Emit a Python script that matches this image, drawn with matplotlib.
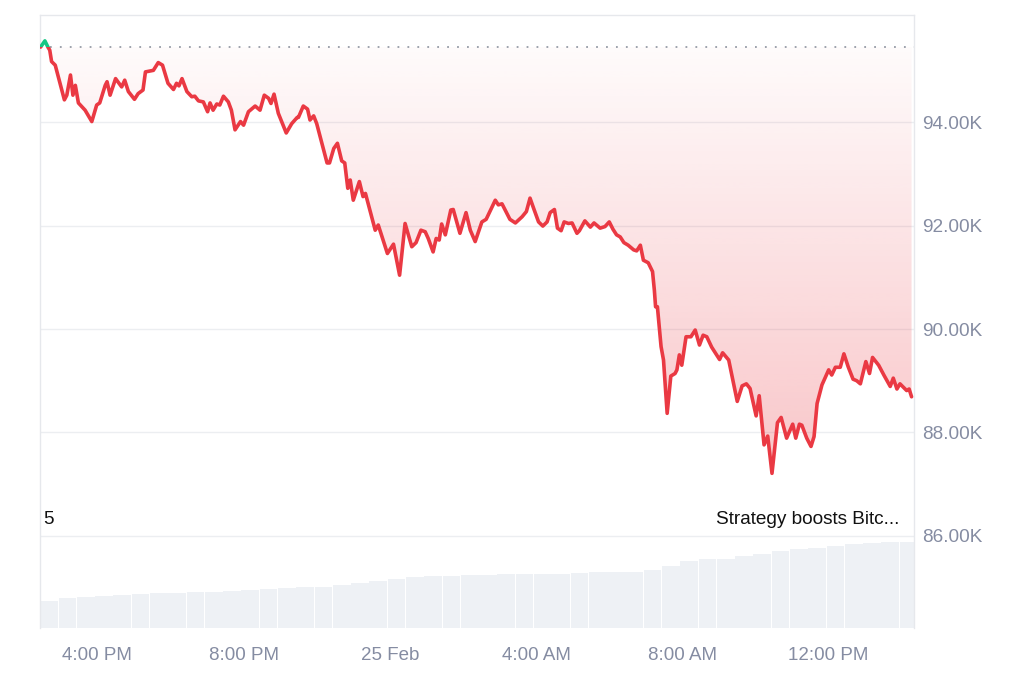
import numpy as np
import matplotlib
matplotlib.use("Agg")
import matplotlib.pyplot as plt
from matplotlib.patches import Rectangle
from matplotlib.path import Path
from matplotlib.colors import to_rgb

plt.rcParams['font.family'] = ['Liberation Sans', 'DejaVu Sans']

# minutes after 4:00 PM on 24 Feb, and BTC price in thousands of USD
minutes = [-93, -86, -81, -78, -75, -69, -54, -50, -44, -40, -36, -31, -20, -9, -1, 4, 13, 16, 21,
           30, 40, 45, 51, 61, 67, 75, 79, 92, 100, 107, 116, 125, 130, 134, 139, 147, 155, 160,
           166, 174, 181, 185, 190, 196, 201, 207, 215, 220, 226, 231, 235, 240, 248, 259, 267,
           274, 281, 285, 290, 297, 310, 319, 328, 330, 338, 345, 349, 355, 360, 377, 381, 388,
           394, 401, 406, 411, 415, 420, 430, 436, 440, 456, 461, 476, 486, 496, 505, 516, 523,
           531, 538, 543, 551, 556, 561, 565, 571, 580, 584, 595, 605, 612, 620, 631, 638, 653,
           658, 664, 677, 686, 697, 704, 710, 716, 724, 731, 738, 743, 750, 755, 761, 766, 773,
           779, 787, 791, 800, 809, 815, 825, 833, 840, 846, 852, 858, 864, 871, 880, 885, 891,
           896, 904, 911, 914, 916, 919, 925, 929, 935, 941, 948, 951, 955, 959, 966, 974, 981,
           988, 994, 1000, 1008, 1021, 1026, 1036, 1050, 1058, 1065, 1071, 1081, 1086, 1094,
           1100, 1107, 1116, 1122, 1131, 1141, 1146, 1152, 1156, 1164, 1171, 1176, 1181, 1189,
           1200, 1205, 1211, 1219, 1225, 1232, 1240, 1246, 1252, 1261, 1267, 1272, 1282, 1291,
           1301, 1306, 1312, 1317, 1328, 1332, 1336]
price = [95.45, 95.57, 95.45, 95.39, 95.17, 95.10, 94.43, 94.52, 94.91, 94.52, 94.71, 94.37, 94.23,
         94.01, 94.33, 94.37, 94.71, 94.78, 94.52, 94.84, 94.68, 94.81, 94.59, 94.44, 94.55, 94.62,
         94.97, 95.00, 95.15, 95.10, 94.75, 94.63, 94.75, 94.70, 94.84, 94.59, 94.49, 94.50, 94.41,
         94.39, 94.20, 94.37, 94.23, 94.35, 94.33, 94.50, 94.39, 94.23, 93.85, 93.94, 94.01, 93.94,
         94.20, 94.31, 94.23, 94.52, 94.46, 94.36, 94.54, 94.17, 93.79, 93.97, 94.09, 94.09, 94.31,
         94.25, 94.04, 94.12, 93.97, 93.21, 93.21, 93.49, 93.59, 93.25, 93.21, 92.72, 92.88, 92.49,
         92.85, 92.56, 92.62, 91.91, 92.01, 91.46, 91.64, 91.04, 92.04, 91.59, 91.67, 91.91, 91.88,
         91.75, 91.49, 91.75, 91.72, 92.03, 91.82, 92.30, 92.31, 91.85, 92.25, 91.91, 91.69, 92.07,
         92.12, 92.49, 92.40, 92.42, 92.12, 92.05, 92.17, 92.27, 92.53, 92.33, 92.07, 91.99, 92.07,
         92.25, 92.31, 91.95, 91.90, 92.07, 92.04, 92.05, 91.85, 91.90, 92.09, 91.97, 92.05, 91.95,
         91.98, 92.07, 91.93, 91.82, 91.78, 91.67, 91.62, 91.53, 91.51, 91.62, 91.33, 91.28, 91.11,
         90.75, 90.43, 90.43, 89.66, 89.40, 88.37, 89.09, 89.14, 89.21, 89.50, 89.30, 89.85, 89.85,
         89.98, 89.69, 89.88, 89.85, 89.65, 89.41, 89.54, 89.40, 88.60, 88.90, 88.94, 88.85, 88.32,
         88.71, 87.76, 87.93, 87.21, 88.19, 88.29, 87.89, 88.16, 87.89, 88.16, 88.14, 87.89, 87.73,
         87.92, 88.56, 88.92, 89.21, 89.11, 89.26, 89.26, 89.52, 89.27, 89.03, 89.00, 88.94, 89.37,
         89.14, 89.45, 89.30, 89.10, 88.89, 89.05, 88.84, 88.94, 88.81, 88.84, 88.69]

# volume in 30-minute buckets starting 2:26 PM (relative units)
volume = [29.3, 32.6, 33.7, 34.8, 35.9, 37.0, 38.0, 38.0, 38.6, 39.1, 39.7, 41.3, 42.4, 43.5,
          44.6, 45.1, 46.7, 48.4, 51.1, 53.3, 54.9, 56.0, 56.5, 57.1, 57.6, 58.2, 58.7, 58.7,
          59.2, 59.8, 60.9, 61.2, 61.4, 63.0, 67.4, 72.8, 74.5, 75.5, 78.3, 80.4, 83.7, 85.9,
          87.5, 89.1, 90.8, 92.4, 93.5, 93.8]

tick_hours = [16, 20, 24, 28, 32, 36]
tick_labels = ["4:00 PM", "8:00 PM", "25 Feb", "4:00 AM", "8:00 AM", "12:00 PM"]
price_ticks = [86, 88, 90, 92, 94]

red = '#ea3943'
green = '#16c784'
grey = '#858ca2'

t = 16 + np.array(minutes) / 60
p = np.array(price)
base = p[0]
x0, x1 = 16 - 94 / 60, 16 + 1340 / 60
y0, y1 = 84.22, 96.07

fig = plt.figure(figsize=(10.24, 6.82), dpi=100)
ax = fig.add_axes([40 / 1024, 54 / 682, 874 / 1024, 613 / 682])
vax = fig.add_axes([40 / 1024, 54 / 682, 874 / 1024, 92 / 682])
vax.set_zorder(0)
ax.set_zorder(1)
ax.patch.set_visible(False)

# volume bars
vol_t = x0 + 0.25 + 0.5 * np.arange(len(volume))
vax.bar(vol_t, volume, width=0.485, color='#eef1f5', edgecolor='none')
vax.set_xlim(x0, x1)
vax.set_ylim(0, 100)
vax.axis('off')

ax.set_xlim(x0, x1)
ax.set_ylim(y0, y1)

# gradient fill under the baseline
fill = ax.fill_between(t, p, base, where=p <= base, interpolate=True,
                       facecolor='none', edgecolor='none')
clip = Path.make_compound_path(*fill.get_paths())
grad = np.zeros((256, 1, 4))
grad[..., :3] = to_rgb(red)
grad[:, 0, 3] = np.linspace(0.29, 0.02, 256)
im = ax.imshow(grad, extent=[x0, x1, p.min(), base], aspect='auto', origin='lower',
               interpolation='bilinear', zorder=2)
im.set_clip_path(clip, transform=ax.transData)

# baseline (opening price)
ax.axhline(base, color='#959ba6', lw=1.3, ls=(0, (1, 4.5)), zorder=3)

# price line: red below the open, green above
ln_r, = ax.plot(t, p, color=red, lw=2.6, solid_joinstyle='round', solid_capstyle='round', zorder=4)
ln_r.set_clip_path(Rectangle((x0, y0), x1 - x0, base - y0, transform=ax.transData))
ln_g, = ax.plot(t, p, color=green, lw=2.6, solid_joinstyle='round', solid_capstyle='round', zorder=4)
ln_g.set_clip_path(Rectangle((x0, base), x1 - x0, y1 - base, transform=ax.transData))

ax.set_yticks(price_ticks, [f"{v:.2f}K" for v in price_ticks])
ax.yaxis.tick_right()
ax.yaxis.grid(True, color='#eceef1', lw=1)
ax.set_axisbelow(True)
ax.tick_params(axis='y', length=0, pad=6, labelsize=13.7, labelcolor=grey)
ax.set_xticks(tick_hours, tick_labels)
ax.tick_params(axis='x', length=0, pad=14, labelsize=13.5, labelcolor=grey)

for side in ['left', 'right', 'top']:
    ax.spines[side].set_color('#e6e8ec')
    ax.spines[side].set_linewidth(1)
ax.spines['bottom'].set_visible(False)

ax.text(0.004, 0.169, "5", transform=ax.transAxes, fontsize=13.7, color='#111111',
        ha='left', va='baseline')
ax.text(0.983, 0.169, "Strategy boosts Bitc...", transform=ax.transAxes, fontsize=13.7,
        color='#111111', ha='right', va='baseline')

fig.savefig("out.png", dpi=100, facecolor='white')
